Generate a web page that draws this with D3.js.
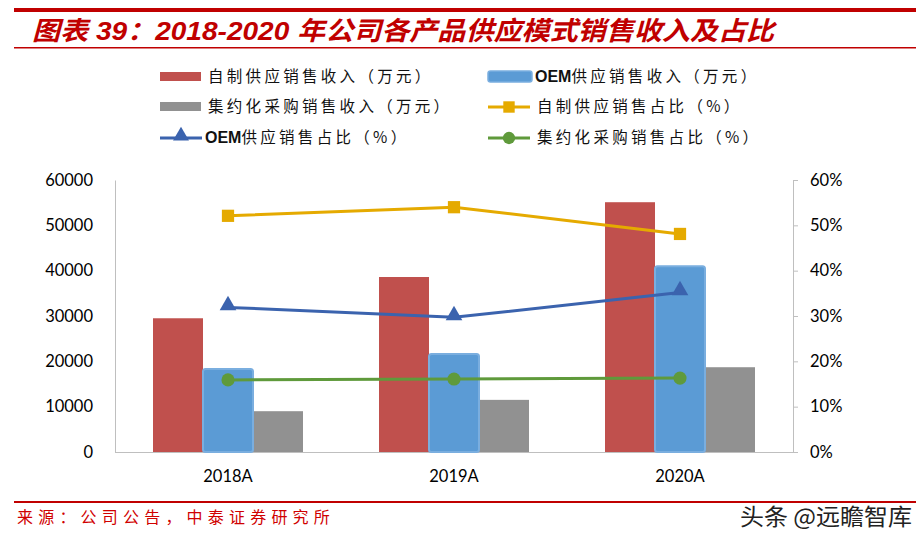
<!DOCTYPE html>
<html><head><meta charset="utf-8">
<script src="https://cdn.jsdelivr.net/npm/d3@7/dist/d3.min.js"></script>
<style>html,body{margin:0;padding:0;background:#fff;} svg{display:block;}</style>
</head><body>
<svg id="chart" width="924" height="538"></svg>
<script>
const categories = ["2018A", "2019A", "2020A"];
const selfRevenue = [29500, 38600, 55100];
const oemRevenue = [18300, 21600, 41000];
const centralRevenue = [9000, 11500, 18700];
const selfShare = [52.1, 54.0, 48.1];
const oemShare = [31.9, 29.7, 35.2];
const centralShare = [15.9, 16.1, 16.3];
const leftTicks = [0, 10000, 20000, 30000, 40000, 50000, 60000];
const rightTicks = [0, 10, 20, 30, 40, 50, 60];
const titleText = "图表 39：2018-2020 年公司各产品供应模式销售收入及占比";
const sourceText = "来源：公司公告，中泰证券研究所";
const watermarkText = "头条 @远瞻智库";
const barNames = ["自制供应销售收入（万元）", "OEM供应销售收入（万元）", "集约化采购销售收入（万元）"];
const lineNames = ["自制供应销售占比（%）", "OEM供应销售占比（%）", "集约化采购销售占比（%）"];

const svg = d3.select("#chart");
const RED = "#C00000";
const C = {self: "#C0504D", oem: "#5B9BD5", oemStroke: "#7AAEDF", central: "#919191",
           selfL: "#E5AA00", oemL: "#3B63AE", centralL: "#5F9A3B"};
const cjk = "'Noto Sans CJK SC', 'Noto Sans', sans-serif";
const num = "Lato, 'Open Sans', sans-serif";

// header
svg.append("rect").attr("x", 14).attr("y", 8).attr("width", 902).attr("height", 4).attr("fill", RED);
svg.append("rect").attr("x", 14).attr("y", 47).attr("width", 902).attr("height", 1.5).attr("fill", RED);
svg.append("text").attr("x", 32).attr("y", 40).text(titleText)
  .attr("font-family", "'Liberation Sans', " + cjk).attr("font-weight", "bold").attr("font-style", "italic")
  .attr("font-size", 26).attr("fill", RED).attr("textLength", 742).attr("lengthAdjust", "spacingAndGlyphs");

// footer
svg.append("rect").attr("x", 14).attr("y", 501).attr("width", 902).attr("height", 2).attr("fill", RED);
svg.append("text").attr("x", 17).attr("y", 523).text(sourceText)
  .attr("font-family", cjk).attr("font-size", 16).attr("letter-spacing", 5.2).attr("fill", "#D00000");
svg.append("text").attr("x", 740).attr("y", 525).text(watermarkText)
  .attr("font-family", cjk).attr("font-size", 23).attr("fill", "#222")
  .attr("textLength", 172).attr("lengthAdjust", "spacingAndGlyphs");

// scales
const x0 = d3.scaleBand().domain(categories).range([115, 793]).padding(0);
const x1 = d3.scaleBand().domain(["self", "oem", "central"]).range([-75, 75]).padding(0);
const yL = d3.scaleLinear().domain([0, 60000]).range([452, 180]);
const yR = d3.scaleLinear().domain([0, 60]).range([452, 180]);

// axes
const gL = svg.append("g").attr("transform", "translate(115,0)")
  .call(d3.axisLeft(yL).tickValues(leftTicks).tickSize(0).tickPadding(22).tickFormat(d3.format("d")));
gL.select(".domain").attr("stroke", "#BFBFBF");
gL.selectAll("text").attr("font-family", num).attr("font-size", 16.5).attr("fill", "#000");

const gR = svg.append("g").attr("transform", "translate(793,0)")
  .call(d3.axisRight(yR).tickValues(rightTicks).tickSize(5).tickPadding(12).tickFormat(d => d + "%"));
gR.select(".domain").attr("stroke", "#BFBFBF");
gR.selectAll("line").attr("stroke", "#BFBFBF");
gR.selectAll("text").attr("font-family", num).attr("font-size", 16.5).attr("fill", "#000");

const gX = svg.append("g").attr("transform", "translate(0,452)")
  .call(d3.axisBottom(x0).tickSize(0).tickPadding(18));
gX.select(".domain").attr("stroke", "#BFBFBF").attr("d", "M115,0.5H793");
gX.selectAll("text").attr("font-family", num).attr("font-size", 16.5).attr("fill", "#000");

// bars
function drawBars(key, vals, fill, stroke) {
  svg.append("g").selectAll("rect").data(categories).join("rect")
    .attr("x", (d) => x0(d) + x0.bandwidth() / 2 + x1(key))
    .attr("y", (d, i) => yL(vals[i]))
    .attr("width", x1.bandwidth())
    .attr("height", (d, i) => yL(0) - yL(vals[i]))
    .attr("fill", fill)
    .attr("stroke", stroke || "none").attr("stroke-width", stroke ? 2 : 0)
    .attr("rx", stroke ? 2.5 : 0);
}
drawBars("self", selfRevenue, C.self);
drawBars("central", centralRevenue, C.central);
drawBars("oem", oemRevenue, C.oem, C.oemStroke);

// lines
const cx = (d) => x0(d) + x0.bandwidth() / 2;
function drawLine(vals, color, marker) {
  const pts = categories.map((c, i) => [cx(c), yR(vals[i])]);
  svg.append("path").attr("d", d3.line()(pts)).attr("fill", "none")
    .attr("stroke", color).attr("stroke-width", 3).attr("stroke-linejoin", "round");
  const sym = d3.symbol().type(marker).size(marker === d3.symbolSquare ? 150 : marker === d3.symbolTriangle ? 120 : 135);
  svg.append("g").selectAll("path").data(pts).join("path")
    .attr("transform", (p) => `translate(${p[0]},${p[1] + (marker === d3.symbolTriangle ? -2 : 0)})`)
    .attr("d", sym()).attr("fill", color);
}
drawLine(selfShare, C.selfL, d3.symbolSquare);
drawLine(oemShare, C.oemL, d3.symbolTriangle);
drawLine(centralShare, C.centralL, d3.symbolCircle);

// legend
const leg = svg.append("g");
const legText = (x, y, t) => {
  const el = leg.append("text").attr("x", x).attr("y", y).attr("font-family", cjk)
    .attr("font-size", 15.5).attr("letter-spacing", 3.3).attr("fill", "#111");
  if (t.startsWith("OEM")) {
    el.append("tspan").text("OEM").attr("font-family", "'Liberation Sans Narrow', 'Liberation Sans', sans-serif")
      .attr("font-weight", "bold").attr("letter-spacing", 0).attr("font-size", 16);
    el.append("tspan").text(t.slice(3));
  } else el.text(t);
};
// row 1
leg.append("rect").attr("x", 160).attr("y", 72).attr("width", 41).attr("height", 9).attr("fill", C.self);
legText(208, 82, barNames[0]);
leg.append("rect").attr("x", 488).attr("y", 71).attr("width", 44).attr("height", 11).attr("rx", 2.5)
  .attr("fill", C.oem).attr("stroke", C.oemStroke).attr("stroke-width", 1.5);
legText(535, 82, barNames[1]);
// row 2
leg.append("rect").attr("x", 160).attr("y", 102).attr("width", 41).attr("height", 9).attr("fill", C.central);
legText(208, 112, barNames[2]);
function legLine(x1p, x2p, y, color, marker) {
  leg.append("line").attr("x1", x1p).attr("x2", x2p).attr("y1", y).attr("y2", y)
    .attr("stroke", color).attr("stroke-width", 3);
  const size = marker === d3.symbolSquare ? 130 : marker === d3.symbolTriangle ? 110 : 120;
  leg.append("path").attr("d", d3.symbol().type(marker).size(size)())
    .attr("transform", `translate(${(x1p + x2p) / 2},${y + (marker === d3.symbolTriangle ? -2 : 0)})`)
    .attr("fill", color);
}
legLine(488, 530, 107, C.selfL, d3.symbolSquare);
legText(537, 112, lineNames[0]);
// row 3
legLine(160, 202, 138, C.oemL, d3.symbolTriangle);
legText(205, 143, lineNames[1]);
legLine(488, 530, 138, C.centralL, d3.symbolCircle);
legText(537, 143, lineNames[2]);
</script>
</body></html>
